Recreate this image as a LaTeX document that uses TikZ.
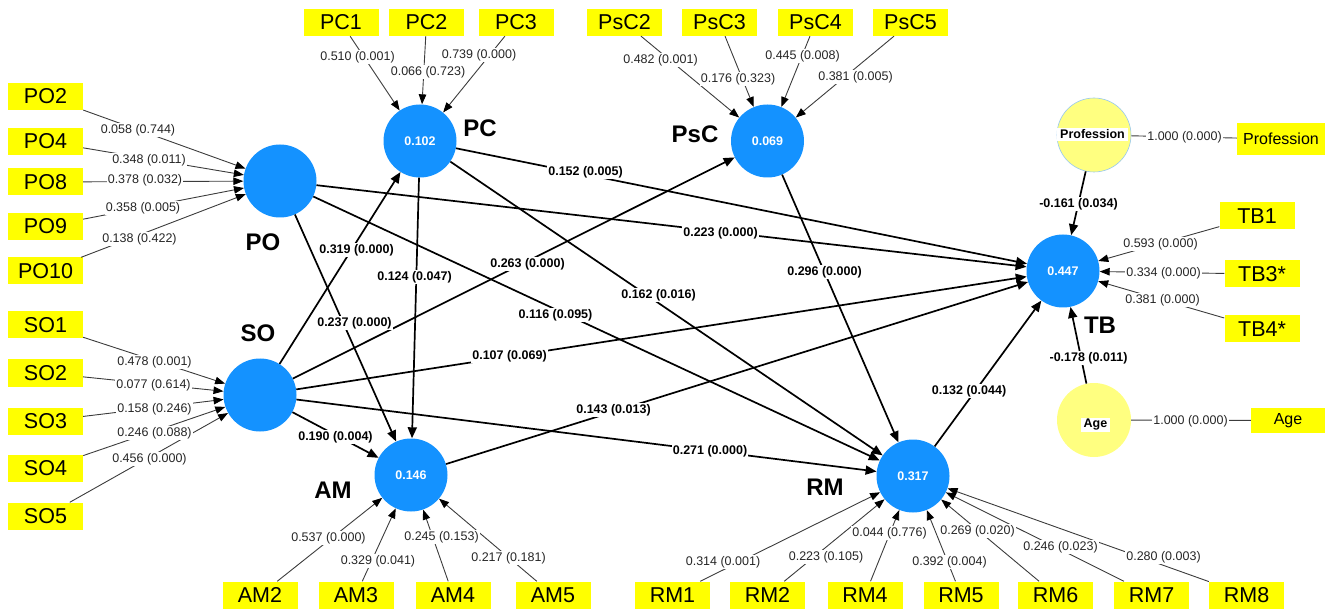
\documentclass[tikz,border=0pt]{standalone}
\usepackage{fontspec}
\setmainfont{Liberation Sans}
\usetikzlibrary{arrows.meta}
\definecolor{lvblue}{RGB}{20,146,255}
\definecolor{indyel}{RGB}{255,255,0}
\definecolor{ctrlyel}{RGB}{255,255,128}
\definecolor{ctrlbord}{RGB}{150,200,240}
\definecolor{indline}{RGB}{60,60,60}
\begin{document}
\begin{tikzpicture}[x=1pt,y=-1pt,
 lv/.style={circle,fill=lvblue,minimum size=73pt,inner sep=0pt,text=white,font=\bfseries\fontsize{12.5}{12.5}\selectfont},
 ctrl/.style={circle,fill=ctrlyel,minimum size=74pt,inner sep=0pt},
 ctrltext/.style={fill=white,inner xsep=3pt,inner ysep=1.5pt,font=\bfseries\fontsize{12.5}{12.5}\selectfont},
 ind/.style={fill=indyel,minimum width=75pt,minimum height=27pt,inner sep=0pt,font=\fontsize{21.5}{21.5}\selectfont},
 indsm/.style={fill=indyel,minimum height=27pt,inner sep=0pt,font=\fontsize{16}{16}\selectfont},
 lvname/.style={inner sep=1pt,font=\bfseries\fontsize{24}{24}\selectfont},
 load/.style={draw=indline,line width=0.9pt,-{Triangle[length=10pt,width=7.5pt,color=black]}},
 loadplain/.style={draw=indline,line width=0.9pt},
 spath/.style={draw=black,line width=1.7pt,-{Triangle[length=11pt,width=9pt]}},
 llab/.style={fill=white,inner sep=1pt,text=black!85,font=\fontsize{12.5}{12.5}\selectfont},
 plab/.style={fill=white,inner sep=1pt,font=\bfseries\fontsize{12.5}{12.5}\selectfont},
]
\useasboundingbox (0,0) rectangle (1330,609);

% latent variables
\node[lv] (PO) at (280,181) {};
\node[lv] (PC) at (420,141) {0.102};
\node[lv] (PsC) at (767.5,141) {0.069};
\node[lv] (SO) at (260,395) {};
\node[lv] (AM) at (411,475) {0.146};
\node[lv] (RM) at (913,476) {0.317};
\node[lv] (TB) at (1063,271) {0.447};
\node[ctrl,draw=ctrlbord,line width=0.6pt] (Prof) at (1094,135) {};
\node[ctrl] (Age) at (1094,420) {};
\node[ctrltext] (ProfT) at (1092.5,134.5) {Profession};
\node[ctrltext] (AgeT) at (1095.5,425) {Age};

% latent names
\node[lvname] (POn) at (263,242) {PO};
\node[lvname] (PCn) at (480,128) {PC};
\node[lvname] (PsCn) at (695,134) {PsC};
\node[lvname] (SOn) at (258,333) {SO};
\node[lvname] (AMn) at (333,490) {AM};
\node[lvname] (RMn) at (825,487) {RM};
\node[lvname] (TBn) at (1100,325) {TB};

% indicators
\node[ind] (PO2) at (45.5,96.5) {PO2};
\node[ind] (PO4) at (45.5,141.5) {PO4};
\node[ind] (PO8) at (45.5,182) {PO8};
\node[ind] (PO9) at (45.5,226.5) {PO9};
\node[ind] (PO10) at (45.5,271) {PO10};
\node[ind] (SO1) at (45.5,325) {SO1};
\node[ind] (SO2) at (45.5,373) {SO2};
\node[ind] (SO3) at (45.5,421) {SO3};
\node[ind] (SO4) at (45.5,468.5) {SO4};
\node[ind] (SO5) at (45.5,516) {SO5};
\node[ind] (PC1) at (341,22.5) {PC1};
\node[ind] (PC2) at (426.5,22.5) {PC2};
\node[ind] (PC3) at (516,22.5) {PC3};
\node[ind] (PsC2) at (624.5,22.5) {PsC2};
\node[ind] (PsC3) at (719.5,22.5) {PsC3};
\node[ind] (PsC4) at (815.5,22.5) {PsC4};
\node[ind] (PsC5) at (910.5,22.5) {PsC5};
\node[ind] (AM2) at (260,595) {AM2};
\node[ind] (AM3) at (356,595) {AM3};
\node[ind] (AM4) at (453,595) {AM4};
\node[ind] (AM5) at (553,595) {AM5};
\node[ind] (RM1) at (672.5,595) {RM1};
\node[ind] (RM2) at (767.5,595) {RM2};
\node[ind] (RM4) at (865,595) {RM4};
\node[ind] (RM5) at (961,595) {RM5};
\node[ind] (RM6) at (1055.5,595) {RM6};
\node[ind] (RM7) at (1151.5,595) {RM7};
\node[ind] (RM8) at (1246.5,595) {RM8};
\node[ind] (TB1) at (1257,216) {TB1};
\node[ind] (TB3) at (1262,274) {TB3*};
\node[ind] (TB4) at (1262,329) {TB4*};
\node[indsm,minimum width=88pt,minimum height=32pt] (ProfI) at (1281,139) {Profession};
\node[indsm,minimum width=74pt,minimum height=25pt] (AgeI) at (1288,420.5) {Age};

% structural paths
\draw[spath] (PO) -- (AM);
\draw[spath] (PO) -- (TB);
\draw[spath] (PO) -- (RM);
\draw[spath] (SO) -- (PC);
\draw[spath] (SO) -- (PsC);
\draw[spath] (SO) -- (TB);
\draw[spath] (SO) -- (RM);
\draw[spath] (SO) -- (AM);
\draw[spath] (PC) -- (AM);
\draw[spath] (PC) -- (TB);
\draw[spath] (PC) -- (RM);
\draw[spath] (PsC) -- (RM);
\draw[spath] (AM) -- (TB);
\draw[spath] (RM) -- (TB);
\draw[spath] (Prof) -- (TB);
\draw[spath] (Age) -- (TB);

% outer weights / loadings
\foreach \i in {PO2,PO4,PO8,PO9,PO10} \draw[load] (\i) -- (PO);
\foreach \i in {SO1,SO2,SO3,SO4,SO5} \draw[load] (\i) -- (SO);
\foreach \i in {PC1,PC2,PC3} \draw[load] (\i) -- (PC);
\foreach \i in {PsC2,PsC3,PsC4,PsC5} \draw[load] (\i) -- (PsC);
\foreach \i in {AM2,AM3,AM4,AM5} \draw[load] (\i) -- (AM);
\foreach \i in {RM1,RM2,RM4,RM5,RM6,RM7,RM8} \draw[load] (\i) -- (RM);
\foreach \i in {TB1,TB3,TB4} \draw[load] (\i) -- (TB);
\draw[loadplain] (Prof) -- (ProfI);
\draw[loadplain] (Age) -- (AgeI);

% loading labels
\node[llab] (lPO2) at (138,130) {0.058 (0.744)};
\node[llab] (lPO4) at (149,160) {0.348 (0.011)};
\node[llab] (lPO8) at (145,180) {0.378 (0.032)};
\node[llab] (lPO9) at (143,208) {0.358 (0.005)};
\node[llab] (lPO10) at (139.5,239) {0.138 (0.422)};
\node[llab] (lSO1) at (154.5,362) {0.478 (0.001)};
\node[llab] (lSO2) at (153.5,385) {0.077 (0.614)};
\node[llab] (lSO3) at (154.5,409) {0.158 (0.246)};
\node[llab] (lSO4) at (154.5,433) {0.246 (0.088)};
\node[llab] (lSO5) at (149.5,459) {0.456 (0.000)};
\node[llab] (lPC1) at (357.5,57) {0.510 (0.001)};
\node[llab] (lPC2) at (428,72) {0.066 (0.723)};
\node[llab] (lPC3) at (479,55) {0.739 (0.000)};
\node[llab] (lPsC2) at (660.5,60) {0.482 (0.001)};
\node[llab] (lPsC3) at (738,79) {0.176 (0.323)};
\node[llab] (lPsC4) at (802.5,56) {0.445 (0.008)};
\node[llab] (lPsC5) at (855.5,77) {0.381 (0.005)};
\node[llab] (lAM2) at (328.5,538) {0.537 (0.000)};
\node[llab] (lAM3) at (378,561) {0.329 (0.041)};
\node[llab] (lAM4) at (441.5,537) {0.245 (0.153)};
\node[llab] (lAM5) at (508.5,558) {0.217 (0.181)};
\node[llab] (lRM1) at (723,562) {0.314 (0.001)};
\node[llab] (lRM2) at (826,557) {0.223 (0.105)};
\node[llab] (lRM4) at (889.5,533) {0.044 (0.776)};
\node[llab] (lRM5) at (949.5,562) {0.392 (0.004)};
\node[llab] (lRM6) at (977.5,531) {0.269 (0.020)};
\node[llab] (lRM7) at (1060.5,547) {0.246 (0.023)};
\node[llab] (lRM8) at (1163.5,557) {0.280 (0.003)};
\node[llab] (lTB1) at (1160.5,244) {0.593 (0.000)};
\node[llab] (lTB3) at (1163.5,273) {0.334 (0.000)};
\node[llab] (lTB4) at (1162.5,300) {0.381 (0.000)};
\node[llab] (lProf) at (1184.5,137) {1.000 (0.000)};
\node[llab] (lAge) at (1190.5,421) {1.000 (0.000)};

% path labels
\node[plab] (pPOAM) at (354.5,323) {0.237 (0.000)};
\node[plab] (pSOPC) at (356.5,250) {0.319 (0.000)};
\node[plab] (pPCAM) at (414.5,277) {0.124 (0.047)};
\node[plab] (pPCTB) at (585.5,172) {0.152 (0.005)};
\node[plab] (pPOTB) at (720.5,233) {0.223 (0.000)};
\node[plab] (pSOPsC) at (527.5,264) {0.263 (0.000)};
\node[plab] (pPCRM) at (658.5,295) {0.162 (0.016)};
\node[plab] (pPsCRM) at (824.5,272) {0.296 (0.000)};
\node[plab] (pPORM) at (555.5,315) {0.116 (0.095)};
\node[plab] (pSOTB) at (509.5,356) {0.107 (0.069)};
\node[plab] (pAMTB) at (613.5,410) {0.143 (0.013)};
\node[plab] (pSORM) at (710,451) {0.271 (0.000)};
\node[plab] (pSOAM) at (335.5,437) {0.190 (0.004)};
\node[plab] (pRMTB) at (969,391) {0.132 (0.044)};
\node[plab] (pProfTB) at (1078.5,204) {-0.161 (0.034)};
\node[plab] (pAgeTB) at (1088.5,358) {-0.178 (0.011)};
\end{tikzpicture}
\end{document}
